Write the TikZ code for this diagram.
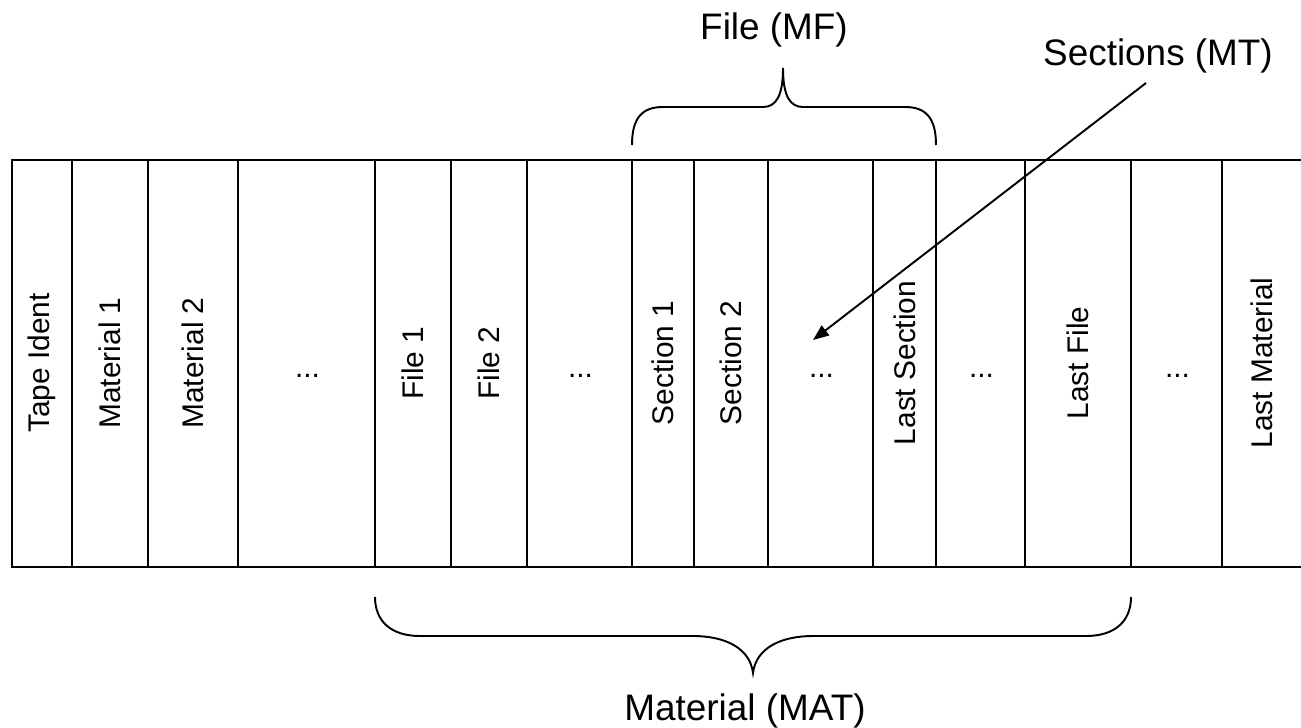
\documentclass[tikz,border=0pt]{standalone}
\usepackage{fontspec}
\setmainfont{Liberation Sans}
\usepackage{tikz}
\usetikzlibrary{arrows.meta}

\begin{document}
\begin{tikzpicture}[x=0.02cm, y=-0.02cm, >={Triangle[length=9pt, width=7pt]},
    line/.style={line width=1.1pt},
    cell/.style={rotate=90, font=\fontsize{17}{20}\selectfont},
    dots/.style={anchor=base, font=\fontsize{17}{20}\selectfont},
    tag/.style={anchor=base, font=\fontsize{21}{25}\selectfont}]
    \useasboundingbox (0,0) rectangle (1301,727);

    % Băng: mở ở bên phải
    \draw[line width=1.3pt] (1301,160) -- (12,160) -- (12,567) -- (1301,567);
    \foreach \x in {72,148,238,375,451,527,632,694,768,873,936,1025,1131,1222}
        \draw[line] (\x,160) -- (\x,567);

    % Tên các ô (chữ xoay dọc)
    \foreach \xa/\xb/\name/\txt in {12/72/tape/Tape Ident, 72/148/mat1/Material 1,
        148/238/mat2/Material 2, 375/451/file1/File 1, 451/527/file2/File 2,
        632/694/sec1/Section 1, 694/768/sec2/Section 2, 873/936/lastsec/Last Section,
        1025/1131/lastfile/Last File, 1222/1301/lastmat/Last Material}
        \node[cell] (\name) at ({(\xa+\xb)/2},363) {\txt};

    % Các ô "..."
    \foreach \xa/\xb/\name in {238/375/dotsa, 527/632/dotsb, 768/873/dotsc,
        936/1025/dotsd, 1131/1222/dotse}
        \node[dots] (\name) at ({(\xa+\xb)/2+1},377) {...};

    % Ngoặc trên: File (MF)
    \draw[line] (632,145) .. controls (632,118) and (642,107) .. (663,107) -- (763,107)
        .. controls (776,107) and (783,96) .. (783,68)
        .. controls (783,96) and (790,107) .. (803,107) -- (905,107)
        .. controls (926,107) and (936,118) .. (936,145);
    \node[tag] (mf) at (774,39) {File (MF)};

    % Ngoặc dưới: Material (MAT)
    \draw[line] (375,597) .. controls (375,622) and (392,636) .. (420,636) -- (693,636)
        .. controls (725,636) and (750,648) .. (753,673)
        .. controls (756,648) and (781,636) .. (813,636) -- (1086,636)
        .. controls (1114,636) and (1131,622) .. (1131,597);
    \node[tag] (mat) at (745,720) {Material (MAT)};

    % Mũi tên Sections (MT)
    \node[tag] (mt) at (1158,65) {Sections (MT)};
    \coordinate (mtfrom) at (1146,83);
    \coordinate (mtto) at (813,340);
    \draw[line, ->] (mtfrom) -- (mtto);
\end{tikzpicture}
\end{document}
